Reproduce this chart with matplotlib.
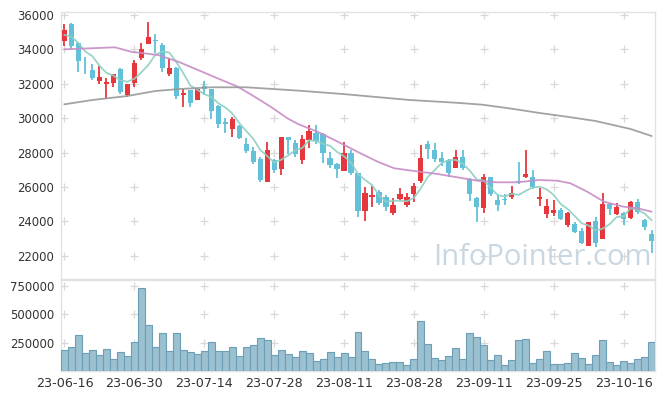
import matplotlib
matplotlib.use('Agg')
import matplotlib.pyplot as plt
import numpy as np

# ---- data ----
opens = [34506, 35477, 34390, 32990, 32802, 32163, 31971, 32064, 32861, 31349,
         32064, 33517, 34331, 34530, 34256, 32587, 32901, 31366, 31640, 31058,
         31872, 31698, 30727, 29762, 29390, 29564, 28500, 28111, 27610, 26308,
         27570, 27047, 28890, 28540, 27570, 28733, 29122, 29081, 27668, 27337,
         26948, 27959, 26796, 24622, 25436, 25691, 25401, 24471, 25302, 24953,
         25575, 26349, 28500, 28151, 27669, 27570, 27122, 27727, 26447, 25340,
         24762, 26564, 25244, 25260, 25401, 26360, 26599, 26564, 25320, 24430,
         24506, 24662, 23791, 23849, 23459, 22570, 24023, 22959, 25012, 24430,
         24506, 24180, 25110, 24081, 23250]
highs = [35477, 35517, 34420, 33576, 33134, 33035, 32320, 32570, 32919, 31988,
         33384, 34390, 35610, 34878, 34390, 33483, 32950, 31680, 31660, 31773,
         32180, 31720, 30750, 30029, 30070, 29590, 28866, 28343, 27762, 28634,
         27600, 28890, 28910, 28730, 29023, 29605, 29605, 29120, 28052, 27370,
         28634, 28151, 26830, 25982, 26058, 25826, 25535, 25378, 25924, 25634,
         26215, 28442, 28692, 28540, 28052, 27610, 28151, 28151, 26525, 25400,
         26738, 26600, 25593, 25593, 26058, 27436, 28151, 26988, 25924, 25285,
         25244, 24762, 24560, 23983, 23598, 23983, 24238, 25669, 25087, 25087,
         24564, 25204, 25300, 24120, 23500]
lows = [34198, 34023, 32703, 32570, 32221, 31988, 31099, 31796, 31407, 31250,
        31796, 33384, 34331, 33773, 32703, 32471, 31116, 30669, 30634, 31058,
        31350, 29953, 29413, 29122, 28889, 28800, 27994, 27337, 26273, 26308,
        26796, 26698, 27919, 27750, 27320, 28250, 28483, 27378, 27087, 26506,
        26948, 26700, 24238, 24023, 24855, 24936, 24622, 24372, 25244, 24855,
        25145, 26215, 27628, 27471, 27221, 26599, 27087, 27000, 25204, 23983,
        24471, 25500, 24622, 24953, 25285, 26157, 26506, 25884, 24913, 24180,
        24314, 24100, 23692, 23350, 22668, 22570, 22495, 22959, 24372, 24372,
        23791, 24122, 24450, 23500, 22145]
closes = [35128, 34215, 33343, 32960, 32355, 32395, 32122, 32570, 31541, 31988,
          33227, 34023, 34721, 34480, 32936, 32919, 31308, 31465, 30901, 31680,
          31680, 30436, 29680, 29663, 29953, 28866, 28111, 27471, 26407, 28151,
          26988, 28890, 28733, 27900, 28791, 29256, 28674, 27959, 27279, 27047,
          27994, 26796, 24622, 25633, 25535, 25087, 24820, 24953, 25593, 25401,
          26058, 27669, 28227, 27610, 27471, 26831, 27727, 27122, 25593, 24855,
          26599, 25593, 24953, 25240, 25634, 26290, 26756, 25982, 25401, 24895,
          24662, 24140, 24506, 23401, 22761, 23983, 22726, 25012, 24704, 24855,
          24140, 25110, 24529, 23692, 22878]
volumes = [185, 212, 318, 159, 185, 141, 194, 106, 168, 132,
           256, 732, 406, 212, 335, 176, 335, 185, 168, 150,
           176, 256, 176, 176, 212, 132, 212, 229, 291, 274,
           141, 185, 150, 124, 176, 159, 88, 106, 168, 124,
           159, 124, 344, 176, 106, 62, 71, 79, 79, 53,
           106, 441, 238, 115, 97, 132, 203, 106, 335, 300,
           229, 97, 141, 53, 97, 274, 282, 71, 106, 176,
           62, 62, 71, 159, 115, 62, 141, 274, 79, 53,
           88, 71, 106, 124, 256]
volumes = [v * 1000 for v in volumes]

# 5-day average: first four points, rest from closes
ma5_head = [34840, 34740, 34354, 33866]
# 20-day average (candle index, value)
ma20_idx = [0, 3.8, 7.2, 9.5, 13.4, 16.5, 19.1, 21.9, 24.8, 27.2, 29.5, 31.9, 33.4,
            36.2, 39.1, 41.9, 44.8, 47.2, 50.8, 53.4, 56.2, 59.1, 61.9, 64.8, 67.9,
            70.5, 72.4, 74.8, 77.2, 80, 82, 84]
ma20_val = [34006, 34064, 34122, 33866, 33674, 33250, 32802, 32320, 31831, 31250,
            30669, 29994, 29663, 29215, 28634, 28052, 27471, 27087, 26889, 26756,
            26564, 26366, 26273, 26273, 26407, 26366, 26215, 25727, 25145, 24855,
            24762, 24564]
# long average
ma60_idx = [0, 4, 9, 13, 16.5, 21, 26, 30.5, 33.6, 40, 49.4, 56, 59.8, 63.6, 68, 72, 76, 81, 84]
ma60_val = [30808, 31058, 31291, 31581, 31698, 31797, 31797, 31680, 31599, 31400,
            31058, 30900, 30785, 30576, 30302, 30080, 29837, 29372, 28965]

tick_pos = [0, 10, 20, 30, 40, 50, 60, 70, 80]
tick_labels = ['23-06-16', '23-06-30', '23-07-14', '23-07-28', '23-08-11',
               '23-08-28', '23-09-11', '23-09-25', '23-10-16']
price_ticks = [22000, 24000, 26000, 28000, 30000, 32000, 34000, 36000]
vol_ticks = [250000, 500000, 750000]

# ---- drawing ----
W, H = 665, 398
fig = plt.figure(figsize=(W / 100, H / 100), dpi=100)
ax = fig.add_axes([61 / W, 1 - 279 / H, 594 / W, 267 / H])
axv = fig.add_axes([61 / W, 1 - 371 / H, 594 / W, 91 / H], sharex=ax)

n = len(closes)
x = np.arange(n)
o = np.array(opens); c = np.array(closes); hi = np.array(highs); lo = np.array(lows)
up = c >= o
red = '#e8363d'
blue = '#63c0d9'
cols = np.where(up, red, blue)

ax.vlines(x, lo, hi, colors=cols, linewidth=1.3, zorder=3)
body_bottom = np.minimum(o, c)
body_h = np.maximum(np.abs(c - o), 45)
ax.bar(x, body_h, bottom=body_bottom, width=0.74, color=cols, linewidth=0, zorder=4)

ma5 = list(ma5_head) + [np.mean(closes[i - 4:i + 1]) for i in range(4, n)]
ax.plot(x, ma5, color='#8fd0c3', lw=1.3, alpha=0.9, zorder=5)
ax.plot(ma20_idx, ma20_val, color='#c88cc6', lw=1.3, alpha=0.9, zorder=5)
ax.plot(ma60_idx, ma60_val, color='#999999', lw=1.3, alpha=0.9, zorder=5)

axv.bar(x, volumes, width=1.0, color='#9bc0d0', edgecolor='#6a9fb7', linewidth=0.8, zorder=3)

y_top = 36000 + 3 * 2000 / 34.4
y_bot = 36000 - 264 * 2000 / 34.4
ax.set_ylim(y_bot, y_top)
axv.set_ylim(0, 91 / 28.33 * 250000)
ax.set_xlim(-0.5, n - 0.5)

grid_c = '#d8d8d8'
for xt in tick_pos:
    ax.plot([xt] * len(price_ticks), price_ticks, ls='none', marker='+', ms=6, mew=0.9,
            color=grid_c, zorder=1)
    axv.plot([xt] * len(vol_ticks), vol_ticks, ls='none', marker='+', ms=6, mew=0.9,
             color=grid_c, zorder=1)

ax.set_yticks(price_ticks)
ax.set_yticklabels([str(v) for v in price_ticks])
axv.set_yticks(vol_ticks)
axv.set_yticklabels([str(v) for v in vol_ticks])
axv.set_xticks(tick_pos)
axv.set_xticklabels(tick_labels)
plt.setp(ax.get_xticklabels(), visible=False)

for a in (ax, axv):
    a.tick_params(length=0, labelsize=8.4, colors='#333333', pad=5)
    for s in a.spines.values():
        s.set_color('#e2e2e2')
        s.set_linewidth(1.0)
axv.tick_params(axis='x', labelsize=9.2, pad=4)

ax.text(0.995, 0.028, 'InfoPointer.com', transform=ax.transAxes, ha='right', va='bottom',
        fontsize=21, color='#c8d7e1', family='Open Sans', zorder=2)

fig.savefig('out.png', dpi=100)
